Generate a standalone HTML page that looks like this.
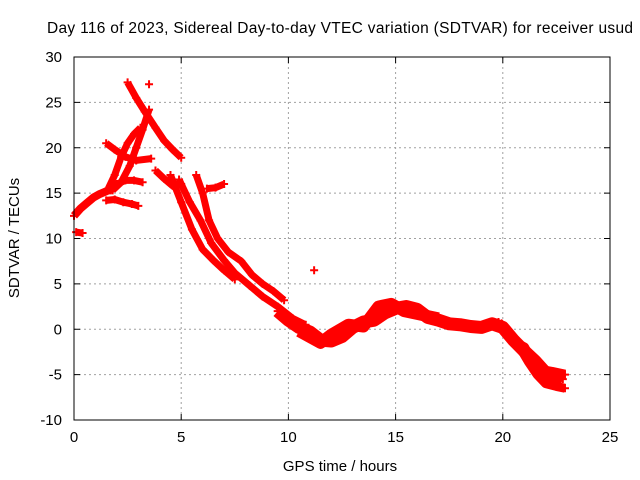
<!DOCTYPE html>
<html><head><meta charset="utf-8"><style>
body{margin:0;background:#fff;}
svg{display:block;font-family:"Liberation Sans",sans-serif;}
</style></head><body>
<svg id="chart" width="640" height="480">
<text x="340" y="33" text-anchor="middle" font-size="15.5" textLength="586">Day 116 of 2023, Sidereal Day-to-day VTEC variation (SDTVAR) for receiver usud</text>
<text x="340" y="471" text-anchor="middle" font-size="15">GPS time / hours</text>
<text transform="translate(19,238) rotate(-90)" text-anchor="middle" font-size="15">SDTVAR / TECUs</text>
<g id="grid"></g><g id="ticks"></g><g id="data"></g>
<rect x="74" y="57" width="536" height="363" fill="none" stroke="#000" stroke-width="1"/>
</svg>
<script>
const xTicks=[0,5,10,15,20,25];
const yTicks=[-10,-5,0,5,10,15,20,25,30];
const trackTimes=[
 [0,0.3,0.6,0.9,1.2,1.5,1.8],
 [1.6,1.9,2.2,2.5,2.8,3.1],
 [1.7,2.0,2.4,2.8,3.2],
 [1.5,1.9,2.3,2.7,3.0],
 [1.5,1.9,2.4,2.9,3.6],
 [2.5,2.9,3.3,3.8,4.2,4.6,5.0],
 [3.5,3.2,2.9,2.6,2.2,1.8],
 [3.8,4.2,4.6,5.0],
 [4.5,5.0,5.5,6.0,6.5,7.0,7.5],
 [5.7,6.0,6.3,6.7,7.2,7.8,8.3,8.8,9.3,9.8],
 [4.9,5.4,5.9,6.4,7.0,7.5,8.2,8.8,9.5,10.2,10.8],
 [6.2,6.6,7.0],
 [9.5,10.0,10.5,11.0,11.5,12.0,12.5,13.0,13.5,14.0,14.5,15.0,15.5,16.0,16.5,17.0,17.5,18.0,18.5,19.0,19.5,20.0,20.5,21.0,21.5,22.0,22.8],
 [10.5,11.5,12.0,12.8,13.5,14.2,14.8,15.4,16.2,17.0],
 [19.8,20.3,20.8,21.2,21.6,22.0,22.5,22.9],
 [20.6,21.0,21.4,21.8,22.3,22.9],
 [0.1,0.4],
 [3.5],[11.2]
];
const trackValues=[
 [12.5,13.3,13.9,14.5,14.9,15.2,15.5],
 [15.5,17,19,20.5,21.5,22.2],
 [15.3,16,16.4,16.4,16.2],
 [14.2,14.3,14.0,13.8,13.6],
 [20.5,19.8,19.0,18.6,18.8],
 [27.2,25.5,24,22.2,20.8,19.8,18.9],
 [24.2,22,20,18,16.2,15.3],
 [17.5,16.6,15.8,16],
 [17,14,11,8.8,7.6,6.5,5.5],
 [17,15,12,10,8.5,7.5,6,5,4.2,3.2],
 [16.5,14,12,9.5,7.6,6.2,4.8,3.6,2.5,1.2,0.5],
 [15.5,15.6,16],
 [2.0,1.0,0.2,-0.3,-1.2,-1.3,-0.8,0.2,0.8,1.0,1.8,2.3,2.5,2.2,1.3,1.0,0.6,0.5,0.3,0.2,0.6,0.2,-1.2,-2.4,-3.5,-4.8,-5.5],
 [-0.2,-1.5,-0.6,0.5,0.3,2.5,2.8,2.0,1.6,1.2],
 [0.8,-0.5,-2.0,-3.6,-5.0,-6.0,-6.3,-6.5],
 [-1.5,-2.0,-3.8,-4.5,-4.7,-5.0],
 [10.7,10.6],
 [27.0],[6.5]
];
const trackWidths=[8,7,7,7,7,7,7,7,7,7,7,7,13,12,9,10,7,7,7];
const X=t=>74+t*21.44, Y=v=>57+(30-v)*9.075;
const NS='http://www.w3.org/2000/svg';
const grid=document.getElementById('grid'),ticks=document.getElementById('ticks'),data=document.getElementById('data');
function mk(tag,attrs,parent){const e=document.createElementNS(NS,tag);for(const k in attrs)e.setAttribute(k,attrs[k]);parent.appendChild(e);return e;}
xTicks.forEach(t=>{const x=X(t);
 if(t>0&&t<25){const g=mk('line',{x1:x,y1:57,x2:x,y2:420,stroke:'#a0a0a0','stroke-dasharray':'2,3'},grid);}
 const l=mk('text',{x:x,y:442,'text-anchor':'middle','font-size':15},ticks);l.textContent=t;
 
 mk('line',{x1:x,y1:420,x2:x,y2:414,stroke:'#000'},ticks);mk('line',{x1:x,y1:57,x2:x,y2:63,stroke:'#000'},ticks);});
yTicks.forEach(v=>{const y=Y(v);
 if(v>-10&&v<30){const g=mk('line',{x1:74,y1:y,x2:610,y2:y,stroke:'#a0a0a0','stroke-dasharray':'2,3'},grid);}
 const l=mk('text',{x:62,y:y+5,'text-anchor':'end','font-size':15},ticks);l.textContent=v;
 
 mk('line',{x1:74,y1:y,x2:80,y2:y,stroke:'#000'},ticks);mk('line',{x1:610,y1:y,x2:604,y2:y,stroke:'#000'},ticks);});
trackTimes.forEach((ts,i)=>{const vs=trackValues[i];
 const pts=ts.map((t,j)=>X(t)+','+Y(vs[j])).join(' ');
 if(ts.length>1){const p=mk('polyline',{points:pts,fill:'none',stroke:'#ff0000','stroke-width':trackWidths[i],'stroke-linejoin':'round'},data);
  }
 ts.forEach((t,j)=>{const x=X(t),y=Y(vs[j]);
  const m=mk('path',{d:`M${x-4},${y}H${x+4}M${x},${y-4}V${y+4}`,stroke:'#ff0000','stroke-width':2},data);
  });
});
</script>
</body></html>
